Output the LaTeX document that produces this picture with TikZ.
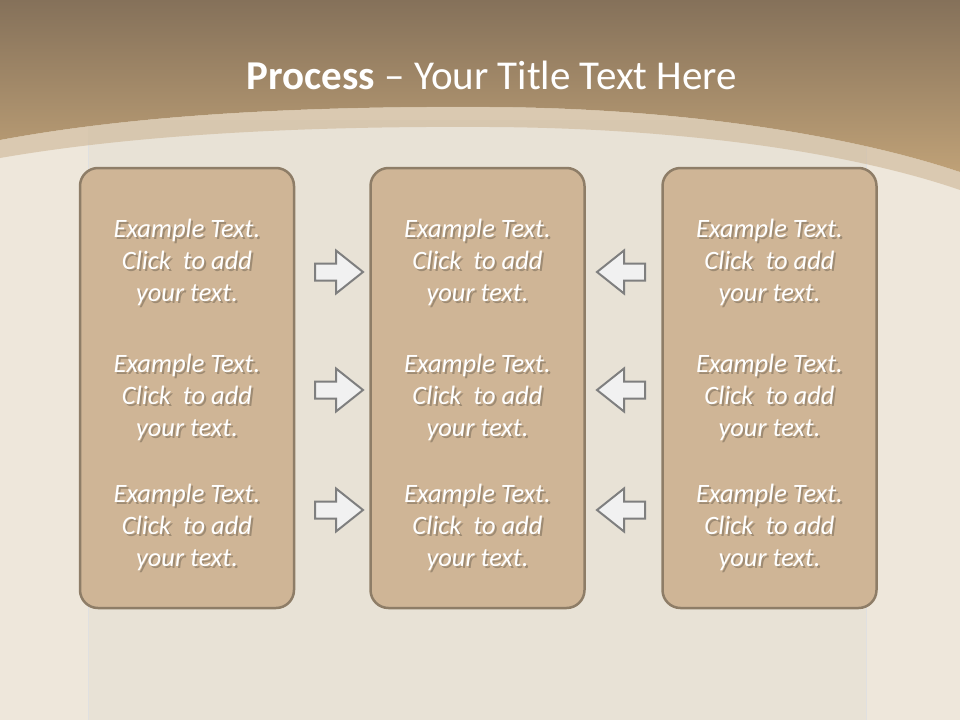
\documentclass[tikz,border=0pt]{standalone}
\usepackage{fontspec}
\setmainfont{Carlito}
\usetikzlibrary{positioning,calc}

\definecolor{bandtop}{HTML}{85715A}
\definecolor{bandbot}{HTML}{BFA177}
\definecolor{woodbg}{HTML}{EEE7DB}
\definecolor{fabric}{HTML}{E8E2D6}
\definecolor{boxfill}{HTML}{CFB596}
\definecolor{boxedge}{HTML}{8E7D67}
\definecolor{arrowfill}{HTML}{F1F1F1}
\definecolor{arrowedge}{HTML}{7F7F7F}
\colorlet{shadowtxt}{boxedge!75!boxfill}

% text with a soft drop shadow
\newcommand{\shline}[1]{\rlap{\raisebox{-2pt}{\kern2pt\textcolor{shadowtxt}{#1}}}#1}

\tikzset{
  stagebox/.style={draw=boxedge, line width=2.5pt, fill=boxfill, rounded corners=18pt,
    minimum width=214pt, minimum height=440pt, inner sep=0pt},
  steptext/.style={align=center, text=white, font=\fontsize{26.5}{32}\selectfont\itshape},
  arrowshape/.style={draw=arrowedge, line width=2pt, fill=arrowfill, line join=miter},
  blockarrow/.pic={
    \draw[arrowshape] (-24,-8.5) -- (-3,-8.5) -- (-3,-21.5) -- (24,0) -- (-3,21.5) -- (-3,8.5) -- (-24,8.5) -- cycle;
  }
}

\begin{document}
\begin{tikzpicture}[x=1pt, y=-1pt]
% background
\useasboundingbox (0,0) rectangle (960,720);
\fill[woodbg] (0,0) rectangle (960,720);
\fill[fabric] (88,120) rectangle (866,720);
\draw[black!12, line width=1pt] (88,140) -- (88,720) (866,140) -- (866,720);
% top band with arc
\shade[top color=bandtop, bottom color=bandbot]
  (0,0) -- (960,0) -- (960,172) .. controls (850,135) and (680,108) .. (490,107)
  .. controls (330,106) and (150,112) .. (0,140) -- cycle;
\fill[bandbot!70!woodbg, opacity=0.6]
  (0,140) .. controls (150,112) and (330,106) .. (490,107)
  .. controls (680,108) and (850,135) .. (960,172) -- (960,190)
  .. controls (850,152) and (680,128) .. (490,127)
  .. controls (330,126) and (150,132) .. (0,158) -- cycle;
% title
\node[text=white, font=\fontsize{41}{44}\selectfont] (title) at (492,75)
  {\textbf{Process} – Your Title Text Here};
% stage boxes
\node[stagebox] (boxL) at (187,388) {};
\node[stagebox] (boxM) at (477.5,388) {};
\node[stagebox] (boxR) at (769.5,388) {};
% texts
\foreach \bx/\tx in {boxL/L, boxM/M, boxR/R}{
  \foreach \ty/\row in {263/1, 398/2, 528/3}{
    \node[steptext] (txt\tx\row) at (\bx.center |- 0,\ty)
      {\shline{Example Text.}\\\shline{Click\ \ to add}\\\shline{your text.}};
  }
}
% arrows
\foreach \ay in {272,390,510}{
  \pic at (339,\ay) {blockarrow};
  \pic[rotate=180] at (621,\ay) {blockarrow};
}
\end{tikzpicture}
\end{document}
